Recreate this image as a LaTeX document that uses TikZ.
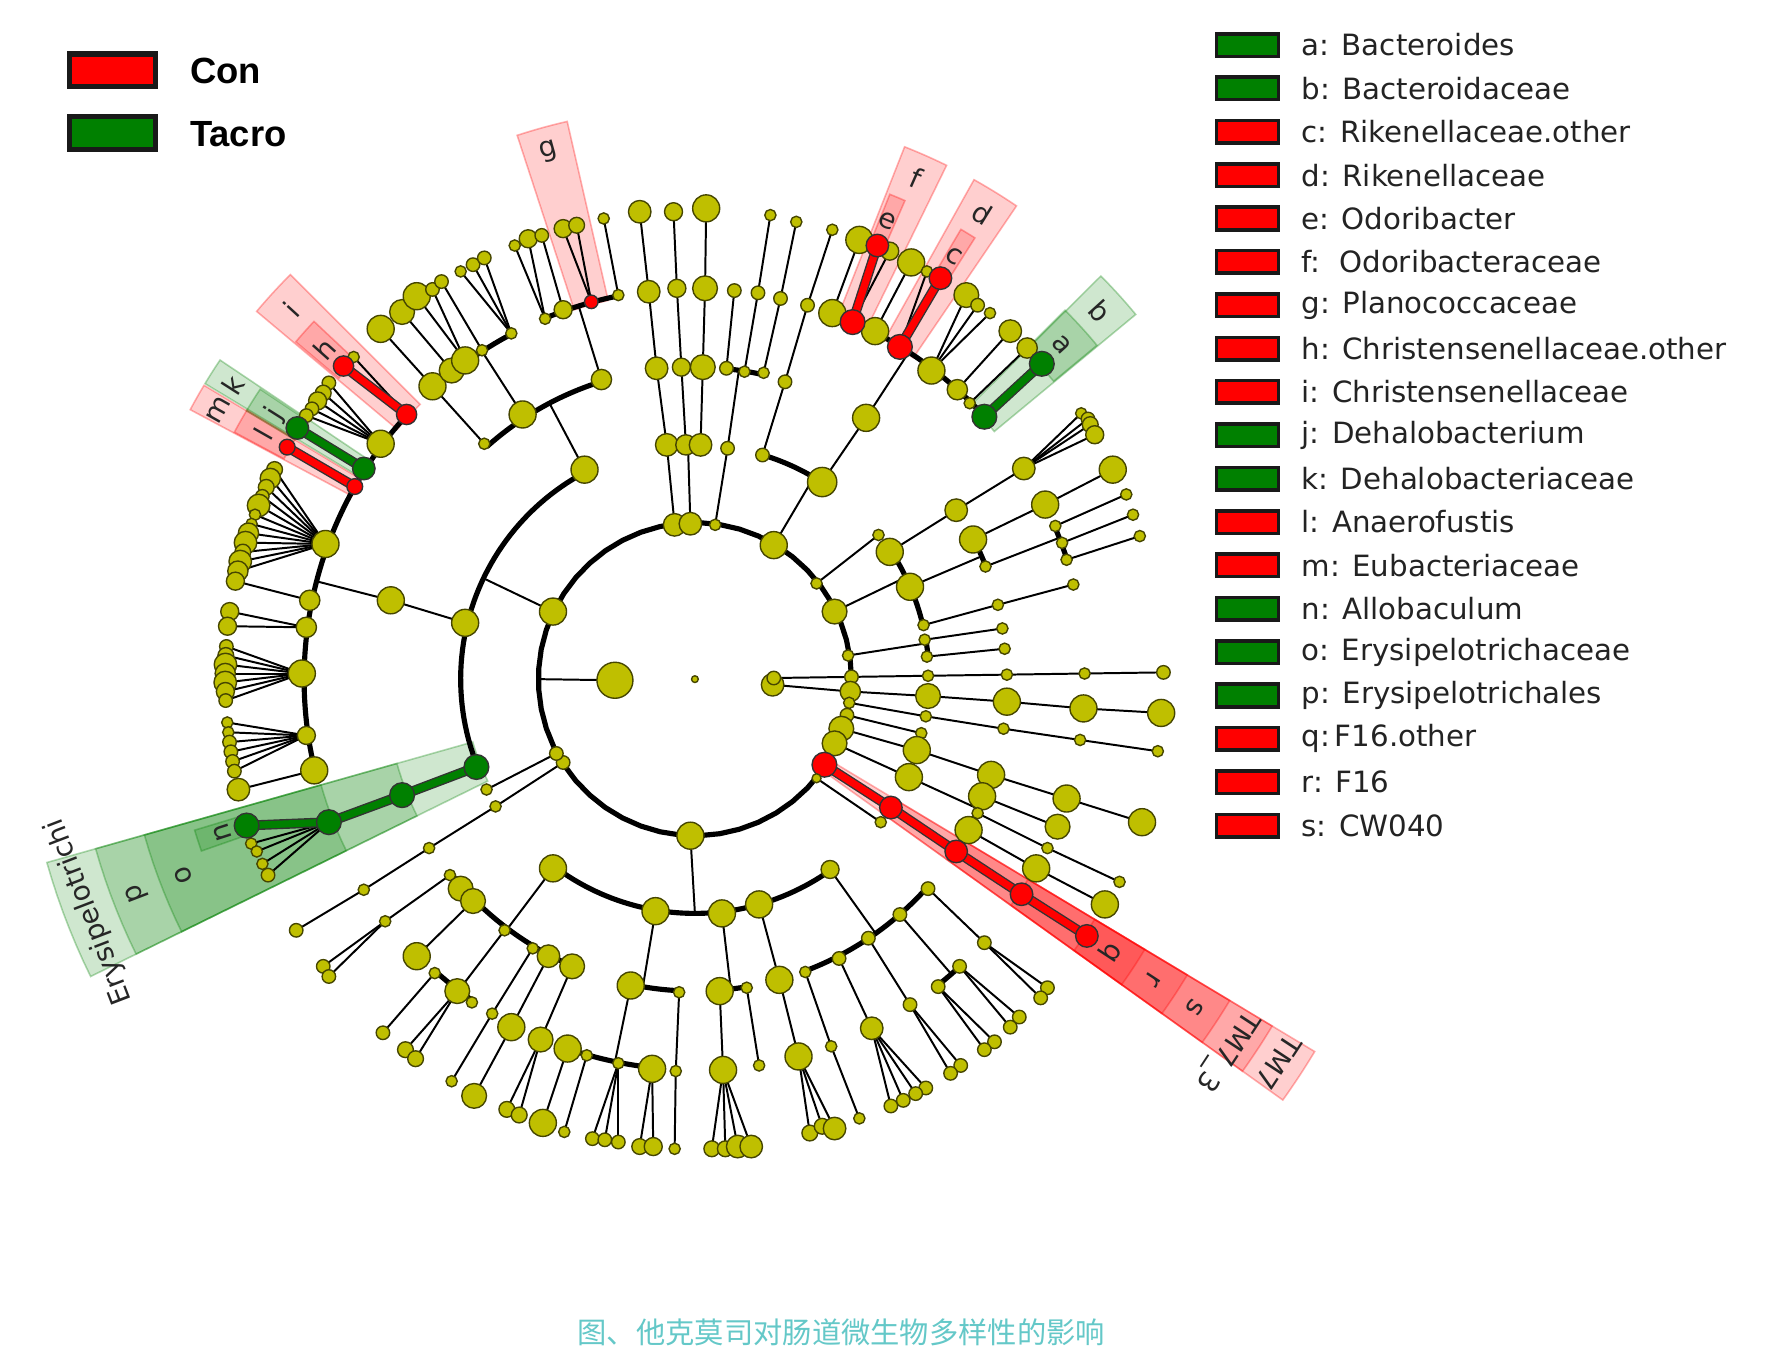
\documentclass[tikz,border=0pt]{standalone}
\usepackage{fontspec}
\setmainfont{DejaVu Sans}
\newfontfamily\lib{Liberation Sans}
\newfontfamily\cjk{Noto Sans CJK SC}
\definecolor{olv}{RGB}{191,191,0}
\definecolor{olvd}{RGB}{70,70,0}
\definecolor{grn}{RGB}{0,128,0}
\definecolor{capc}{RGB}{100,200,200}
\definecolor{txt}{RGB}{35,35,35}
\pgfdeclarelayer{bg}
\pgfdeclarelayer{edges}
\pgfsetlayers{bg,edges,main}
\tikzset{
  nd/.style={circle,inner sep=0pt,line width=0.35pt},
  ol/.style={fill=olv,draw=olvd},
  rd/.style={fill=red,draw=black!80},
  gr/.style={fill=grn,draw=black!80},
  th/.style={line width=0.5pt,black},
  tk/.style={line width=1.3pt,black},
  lab/.style={font=\fontsize{7}{8}\selectfont,text=black!85,inner sep=0pt},
  lgbox/.style={draw=black!90,line width=0.9pt,minimum width=0.55cm,minimum height=0.2cm,inner sep=0pt},
  lgtxt/.style={anchor=west,font=\fontsize{7.4}{9}\selectfont,text=txt,inner sep=0pt},
}
\newcommand\TN[5]{\node[nd,#5,minimum size=#4*0.2mm] (#1) at (#2,#3) {};}
\newcommand\TE[2]{\draw[th] (#1.center) -- (#2.center);}
\newcommand\TRC[2]{\draw[line width=2.5pt,black!80] (#1.center) -- (#2.center);\draw[line width=1.8pt,red] (#1.center) -- (#2.center);}
\newcommand\TGC[2]{\draw[line width=2.5pt,black!80] (#1.center) -- (#2.center);\draw[line width=1.8pt,grn] (#1.center) -- (#2.center);}
\newcommand\TA[3]{\draw[tk] plot[domain=#2:#3,samples=50] ({617+#1*cos(\x)},{603+#1*sin(\x)});}
\newcommand\TJ[3]{\coordinate (#1) at ({617+#2*cos(#3)},{603+#2*sin(#3)});}
\newcommand\THL[5]{\filldraw[fill=#1,draw=#1,fill opacity=0.19,draw opacity=0.3,line width=0.4pt] plot[domain=#2:#3,samples=8] ({617+#5*cos(\x)},{603+#5*sin(\x)}) -- plot[domain=#3:#2,samples=8] ({617+#4*cos(\x)},{603+#4*sin(\x)}) -- cycle;}
\newcommand\TLB[5]{\node[lab,rotate=#4] (#1) at ({617+#2*cos(#3)},{603+#2*sin(#3)}) {#5};}
\begin{document}
\begin{tikzpicture}[x=0.1mm,y=-0.1mm]
\useasboundingbox (0,0) rectangle (1568,1197);
\begin{pgfonlayer}{bg}
\fill[white] (0,0) rectangle (1568,1197);
% highlights red
\THL{red}{-108.1}{-102.9}{345}{508}
\THL{red}{-68.5}{-63.9}{345}{508}
\THL{red}{-68.1}{-66.3}{414}{464}
\THL{red}{-60.8}{-55.8}{345}{508}
\THL{red}{-59.4}{-57.6}{414}{464}
\THL{red}{-140}{-135}{345}{508}
\THL{red}{-139.8}{-136.8}{414}{464}
\THL{red}{-151.9}{-149.1}{345}{508}
\THL{red}{-151.8}{-149.0}{414}{464}
\THL{red}{31}{35.6}{136}{642}
\THL{red}{31}{35.6}{205}{598}
\THL{red}{31}{35.6}{275}{554}
\THL{red}{31}{35.6}{345}{510}
\THL{red}{31}{35.6}{414}{466}
% highlights green
\THL{grn}{-44.8}{-39.6}{345}{508}
\THL{grn}{-44.9}{-39.7}{414}{464}
\THL{grn}{-148.9}{-146.1}{345}{508}
\THL{grn}{-149.1}{-146.3}{414}{464}
\THL{grn}{153.8}{164.2}{205}{598}
\THL{grn}{153.8}{164.2}{275}{553}
\THL{grn}{153.8}{164.2}{345}{508}
\THL{grn}{160.8}{163.2}{414}{464}
\end{pgfonlayer}

% ---------- nodes ----------
\TN{c0}{617}{603}{3}{ol}
\TN{k1}{546}{604}{16}{ol}
\TN{k2}{686}{608}{10}{ol}
\TN{k3}{687}{602}{6}{ol}
% L2
\TN{p1}{599}{466}{10}{ol}
\TN{p2}{613}{465}{10}{ol}
\TN{p3}{635}{466}{5}{ol}
\TN{p4}{687}{484}{12}{ol}
\TN{p5}{725}{518}{5}{ol}
\TN{p6}{741}{543}{11}{ol}
\TN{p7}{753}{582}{5}{ol}
\TN{p8}{756}{601}{6}{ol}
\TN{p9}{755}{614}{9}{ol}
\TN{p10}{754}{624}{5}{ol}
\TN{p11}{752}{635}{6}{ol}
\TN{p12}{747}{647}{11}{ol}
\TN{p13}{741}{660}{11}{ol}
\TN{p14}{732}{679}{11}{rd}
\TN{p15}{725}{691}{4}{ol}
\TN{p16}{613}{742}{12}{ol}
\TN{p17}{500}{677}{6}{ol}
\TN{p18}{494}{669}{6}{ol}
\TN{p19}{491}{543}{12}{ol}
% top
\TN{t1}{592}{395}{10}{ol}
\TN{t2}{609}{395}{9}{ol}
\TN{t3}{622}{395}{10}{ol}
\TN{t4}{646}{398}{6}{ol}
\TN{t5}{677}{404}{6}{ol}
\TN{t6}{730}{428}{13}{ol}
\TN{t7}{583}{327}{10}{ol}
\TN{t8}{605}{326}{8}{ol}
\TN{t9}{624}{326}{11}{ol}
\TN{t10}{645}{327}{6}{ol}
\TN{t11}{661}{330}{5}{ol}
\TN{t12}{678}{331}{5}{ol}
\TN{t13}{697}{339}{6}{ol}
\TN{t14}{769}{371}{12}{ol}
\TN{t15}{576}{259}{10}{ol}
\TN{t16}{601}{256}{8}{ol}
\TN{t17}{626}{256}{11}{ol}
\TN{t18}{652}{258}{6}{ol}
\TN{t19}{673}{260}{6}{ol}
\TN{t20}{693}{265}{6}{ol}
\TN{t21}{717}{271}{6}{ol}
\TN{t22}{568}{188}{10}{ol}
\TN{t23}{598}{188}{8}{ol}
\TN{t24}{627}{185}{12}{ol}
\TN{t25}{684}{191}{5}{ol}
\TN{t26}{707}{197}{5}{ol}
\TN{t27}{739}{204}{5}{ol}
% Bacteroidales
\TN{b1}{739}{278}{12}{ol}
\TN{b3}{777}{294}{12}{ol}
\TN{b5}{827}{329}{12}{ol}
\TN{b6}{850}{346}{9}{ol}
\TN{b7}{861}{358}{5}{ol}
\TN{b9}{763}{213}{12}{ol}
\TN{b11}{790}{223}{8}{ol}
\TN{b12}{809}{233}{12}{ol}
\TN{b13}{823}{241}{5}{ol}
\TN{b15}{858}{262}{11}{ol}
\TN{b16}{868}{271}{6}{ol}
\TN{b17}{879}{278}{5}{ol}
\TN{b18}{897}{294}{10}{ol}
\TN{b19}{912}{309}{9}{ol}
\TN{b2}{757}{286}{11}{rd}
\TN{b4}{799}{308}{11}{rd}
\TN{b8}{874}{370}{11}{gr}
\TN{b10}{779}{218}{10}{rd}
\TN{b14}{835}{247}{10}{rd}
\TN{b20}{925}{323}{11}{gr}
% right
\TN{r1}{780}{475}{5}{ol}
\TN{r2}{790}{490}{12}{ol}
\TN{r3}{808}{521}{12}{ol}
\TN{r4}{820}{555}{5}{ol}
\TN{r5}{849}{453}{10}{ol}
\TN{r6}{864}{479}{12}{ol}
\TN{r7}{875}{503}{5}{ol}
\TN{r8}{886}{537}{5}{ol}
\TN{r9}{909}{416}{10}{ol}
\TN{r10}{928}{448}{12}{ol}
\TN{r11}{937}{467}{5}{ol}
\TN{r12}{943}{482}{5}{ol}
\TN{r13}{947}{497}{5}{ol}
\TN{r14}{953}{519}{5}{ol}
\TN{r15}{960}{367}{5}{ol}
\TN{r16}{966}{372}{6}{ol}
\TN{r17}{968}{377}{7}{ol}
\TN{r18}{972}{386}{8}{ol}
\TN{r19}{988}{417}{12}{ol}
\TN{r20}{1000}{439}{5}{ol}
\TN{r21}{1006}{457}{5}{ol}
\TN{r22}{1012}{476}{5}{ol}
\TN{m1}{821}{568}{5}{ol}
\TN{m2}{823}{583}{5}{ol}
\TN{m3}{890}{558}{5}{ol}
\TN{m4}{892}{576}{5}{ol}
\TN{m5}{824}{600}{5}{ol}
\TN{m6}{894}{599}{5}{ol}
\TN{m7}{963}{598}{5}{ol}
\TN{m8}{1033}{597}{6}{ol}
\TN{m9}{824}{618}{11}{ol}
\TN{m10}{894}{623}{12}{ol}
\TN{m11}{962}{629}{12}{ol}
\TN{m12}{1031}{633}{12}{ol}
\TN{m13}{822}{636}{5}{ol}
\TN{m14}{891}{647}{5}{ol}
\TN{m15}{959}{657}{5}{ol}
\TN{m16}{1028}{667}{5}{ol}
\TN{m17}{818}{651}{5}{ol}
\TN{m18}{814}{666}{12}{ol}
\TN{m19}{880}{688}{12}{ol}
\TN{m20}{947}{709}{12}{ol}
\TN{m21}{1014}{730}{12}{ol}
\TN{m22}{807}{690}{12}{ol}
\TN{m23}{872}{707}{12}{ol}
\TN{m24}{868}{722}{5}{ol}
\TN{m25}{860}{737}{12}{ol}
\TN{m26}{939}{734}{11}{ol}
\TN{m27}{930}{753}{5}{ol}
\TN{m28}{920}{771}{12}{ol}
\TN{m29}{994}{783}{5}{ol}
\TN{m30}{981}{803}{12}{ol}
\TN{m31}{782}{730}{5}{ol}
\TN{q1}{791}{717}{10}{rd}
\TN{q2}{849}{756}{10}{rd}
\TN{q3}{907}{794}{10}{rd}
\TN{q4}{965}{831}{10}{rd}
% bottom right
\TN{s1}{737}{772}{8}{ol}
\TN{s2}{824}{789}{6}{ol}
\TN{s3}{799}{812}{6}{ol}
\TN{s4}{771}{833}{6}{ol}
\TN{s5}{745}{851}{6}{ol}
\TN{s6}{715}{863}{5}{ol}
\TN{s7}{874}{837}{6}{ol}
\TN{s8}{852}{858}{6}{ol}
\TN{s9}{833}{876}{6}{ol}
\TN{s10}{808}{892}{6}{ol}
\TN{s11}{774}{913}{10}{ol}
\TN{s12}{738}{929}{5}{ol}
\TN{s13}{930}{877}{6}{ol}
\TN{s14}{924}{886}{6}{ol}
\TN{s15}{905}{903}{6}{ol}
\TN{s16}{897}{912}{6}{ol}
\TN{s17}{883}{925}{6}{ol}
\TN{s18}{874}{932}{6}{ol}
\TN{s19}{853}{946}{6}{ol}
\TN{s20}{844}{953}{6}{ol}
\TN{s21}{822}{966}{6}{ol}
\TN{s22}{813}{971}{6}{ol}
\TN{s23}{802}{977}{6}{ol}
\TN{s24}{791}{982}{6}{ol}
\TN{s25}{763}{993}{5}{ol}
% bottom
\TN{u1}{674}{803}{12}{ol}
\TN{u2}{641}{811}{12}{ol}
\TN{u3}{582}{809}{12}{ol}
\TN{u4}{491}{771}{12}{ol}
\TN{u5}{692}{870}{12}{ol}
\TN{u6}{709}{938}{12}{ol}
\TN{u7}{719}{1006}{7}{ol}
\TN{u8}{730}{1000}{7}{ol}
\TN{u9}{741}{1002}{10}{ol}
\TN{u10}{639}{880}{12}{ol}
\TN{u11}{663}{877}{5}{ol}
\TN{u12}{642}{950}{12}{ol}
\TN{u13}{674}{946}{5}{ol}
\TN{u14}{632}{1020}{7}{ol}
\TN{u15}{644}{1020}{7}{ol}
\TN{u16}{655}{1018}{10}{ol}
\TN{u17}{667}{1018}{10}{ol}
\TN{u18}{560}{875}{12}{ol}
\TN{u19}{603}{881}{5}{ol}
\TN{u20}{600}{951}{5}{ol}
\TN{u21}{599}{1020}{5}{ol}
\TN{u22}{504}{931}{12}{ol}
\TN{u23}{521}{937}{5}{ol}
\TN{u24}{549}{944}{5}{ol}
\TN{u25}{579}{949}{12}{ol}
\TN{u26}{482}{997}{12}{ol}
\TN{u27}{501}{1005}{5}{ol}
\TN{u28}{526}{1011}{6}{ol}
\TN{u29}{537}{1012}{6}{ol}
\TN{u30}{549}{1014}{6}{ol}
\TN{u31}{568}{1018}{7}{ol}
\TN{u32}{580}{1018}{8}{ol}
% bottom left
\TN{v1}{399.5}{777}{5}{ol}
\TN{v2}{409}{789}{11}{ol}
\TN{v3}{420}{800}{11}{ol}
\TN{v4}{448}{826}{5}{ol}
\TN{v5}{473}{842}{5}{ol}
\TN{v6}{487}{849}{10}{ol}
\TN{v7}{508}{858}{11}{ol}
\TN{v8}{342}{818}{5}{ol}
\TN{v9}{370}{849}{12}{ol}
\TN{v10}{386}{864}{5}{ol}
\TN{v11}{406}{880}{11}{ol}
\TN{v12}{419}{890}{5}{ol}
\TN{v13}{437}{900}{5}{ol}
\TN{v14}{454}{912}{12}{ol}
\TN{v15}{480}{923}{11}{ol}
\TN{v16}{287}{858}{6}{ol}
\TN{v17}{292}{867}{6}{ol}
\TN{v18}{340}{917}{6}{ol}
\TN{v19}{360}{932}{7}{ol}
\TN{v20}{369}{940}{7}{ol}
\TN{v21}{401}{960}{5}{ol}
\TN{v22}{421}{973}{11}{ol}
\TN{v23}{450}{985}{7}{ol}
\TN{v24}{461}{990}{7}{ol}
% left chains
\TN{w1}{432}{701}{5}{ol}
\TN{w2}{440}{716}{5}{ol}
\TN{w3}{381}{753}{5}{ol}
\TN{w4}{323}{790}{5}{ol}
\TN{w5}{263}{826}{6}{ol}
\TN{e5}{223}{749}{5}{ol}
\TN{e6}{228}{756}{5}{ol}
\TN{e7}{233}{767}{5}{ol}
\TN{e8}{238}{777}{6}{ol}
\TN{e1}{423}{681}{11}{gr}
\TN{e2}{357}{706}{11}{gr}
\TN{e3}{292}{730}{11}{gr}
\TN{e4}{219}{733}{11}{gr}
% Clostridia
\TN{c1}{413}{553}{12}{ol}
\TN{c2}{347}{533}{12}{ol}
\TN{c4}{338}{394}{12}{ol}
\TN{c7}{289}{483}{12}{ol}
\TN{c8}{275}{533}{9}{ol}
\TN{c9}{272}{557}{9}{ol}
\TN{c10}{268}{598}{12}{ol}
\TN{c11}{272}{653}{8}{ol}
\TN{c12}{279}{684}{12}{ol}
\TN{c14}{314}{317}{5}{ol}
\TN{c15}{292}{340}{6}{ol}
\TN{c16}{287}{349}{7}{ol}
\TN{c17}{282}{356}{8}{ol}
\TN{c18}{277}{363}{6}{ol}
\TN{c19}{272}{369}{6}{ol}
\TN{c3}{361}{368}{9}{rd}
\TN{c13}{305}{325}{9}{rd}
\TN{c5}{323}{416}{10}{gr}
\TN{c20}{264}{380}{10}{gr}
\TN{c6}{315}{432}{7}{rd}
\TN{c21}{255}{397}{7}{rd}
\TN{f1}{243.8}{416.9}{7}{ol}
\TN{f2}{240.0}{424.8}{9}{ol}
\TN{f3}{236.4}{432.7}{7}{ol}
\TN{f4}{232.9}{440.7}{6}{ol}
\TN{f5}{229.6}{448.8}{10}{ol}
\TN{f6}{226.4}{457.0}{5}{ol}
\TN{f7}{223.4}{465.2}{5}{ol}
\TN{f8}{220.6}{473.4}{9}{ol}
\TN{f9}{218.0}{481.8}{10}{ol}
\TN{f10}{215.6}{490.2}{7}{ol}
\TN{f11}{213.3}{498.6}{10}{ol}
\TN{f12}{211.2}{507.1}{9}{ol}
\TN{g1}{209}{516}{8}{ol}
\TN{g2}{204}{543}{8}{ol}
\TN{g3}{202}{556}{8}{ol}
\TN{h1}{201}{574}{6}{ol}
\TN{h2}{200.5}{582}{7}{ol}
\TN{h3}{200.2}{590}{10}{ol}
\TN{h4}{200}{598}{9}{ol}
\TN{h5}{200}{606}{10}{ol}
\TN{h6}{200.1}{614}{8}{ol}
\TN{h7}{200.4}{622}{6}{ol}
\TN{i1}{201.8}{641.5}{5}{ol}
\TN{i2}{202.7}{650.2}{5}{ol}
\TN{i3}{203.8}{658.9}{6}{ol}
\TN{i4}{205}{667.5}{6}{ol}
\TN{i5}{206.5}{676.1}{6}{ol}
\TN{i6}{208.1}{684.7}{6}{ol}
\TN{i7}{211.7}{701.1}{10}{ol}
% Bacilli
\TN{a1}{519}{417}{12}{ol}
\TN{a2}{430}{394}{5}{ol}
\TN{a3}{464}{368}{12}{ol}
\TN{a4}{534}{337}{9}{ol}
\TN{a5}{384}{343}{12}{ol}
\TN{a6}{401}{329}{11}{ol}
\TN{a7}{413}{320}{12}{ol}
\TN{a8}{428}{311}{5}{ol}
\TN{a9}{454}{296}{5}{ol}
\TN{a10}{484}{283}{5}{ol}
\TN{a11}{500}{275}{8}{ol}
\TN{a13}{549}{262}{5}{ol}
\TN{a12}{525}{268}{6}{rd}
\TN{a14}{338}{292}{12}{ol}
\TN{a15}{357}{277}{11}{ol}
\TN{a16}{370}{263}{12}{ol}
\TN{a17}{384}{257}{6}{ol}
\TN{a18}{392}{250}{6}{ol}
\TN{a19}{409}{241}{5}{ol}
\TN{a20}{420}{235}{6}{ol}
\TN{a21}{430}{229}{6}{ol}
\TN{a22}{457}{218}{5}{ol}
\TN{a23}{469}{212}{8}{ol}
\TN{a24}{481}{209}{6}{ol}
\TN{a25}{500}{203}{8}{ol}
\TN{a26}{512}{200}{7}{ol}
\TN{a27}{536}{194}{5}{ol}

% ---------- connectors ----------
\begin{pgfonlayer}{edges}
\TA{139}{0}{360}
\TA{208}{-117.8}{-201.9}
\TA{277}{-131.8}{-107.3}
\TA{347}{-128.2}{-118}
\TA{347}{-112.6}{-101.3}
\TA{347}{-137.4}{-193.5}
\TA{208}{-92.2}{-88.6}
\TA{277}{-84.2}{-77.4}
\TA{208}{-73.2}{-57.1}
\TA{347}{-69.4}{-42.2}
\TA{208}{-33.2}{-13.3}
\TA{277}{-26.7}{-21.2}
\TA{347}{-23}{-17.8}
\TA{208}{-9.7}{-5.5}
\TA{277}{22.2}{28.9}
\TA{208}{54.6}{126.9}
\TA{277}{41.9}{69.3}
\TA{347}{47.3}{51.6}
\TA{277}{80.5}{85.4}
\TA{277}{92.8}{101.8}
\TA{347}{96.3}{109}
\TA{277}{113}{141.3}
\TA{347}{124.4}{131.5}
\TJ{jk1}{139}{180}
\TJ{jF}{208}{-154.5}
\TJ{jc2}{347}{-165.5}
\TJ{jB}{277}{-117.8}
\TJ{ja3}{347}{-123}
\TJ{ja4}{347}{-107.3}
\TJ{jp2}{208}{-91.7}
\TJ{jt4}{277}{-81.9}
\TJ{jp4}{208}{-59.5}
\TJ{jt14}{347}{-56.8}
\TJ{jp6}{208}{-25.8}
\TJ{jr3}{277}{-23.2}
\TJ{jr7}{347}{-21.2}
\TJ{jp7}{208}{-8.8}
\TJ{jm22}{277}{24.6}
\TJ{jp16}{208}{90}
\TJ{js1}{277}{54.6}
\TJ{js3}{347}{49}
\TJ{ju2}{277}{83.4}
\TJ{ju3}{277}{99.6}
\TJ{ju18}{347}{101.8}
\TJ{ju4}{277}{126.9}
\TJ{jv4}{347}{127.2}
% centre
\TE{k1}{jk1}\TE{k2}{p9}\TE{k3}{p8}
% Firmicutes
\TE{p19}{jF}\TE{c1}{c2}\TE{c2}{jc2}
\TE{a1}{jB}\TE{a2}{a5}\TE{a3}{ja3}\TE{a4}{ja4}
\TE{a5}{a14}\TE{a6}{a15}\TE{a7}{a16}\TE{a7}{a17}\TE{a8}{a18}
\TE{a9}{a19}\TE{a9}{a20}\TE{a9}{a21}
\TE{a10}{a22}\TE{a10}{a23}\TE{a11}{a24}\TE{a12}{a25}\TE{a12}{a26}\TE{a13}{a27}
\TE{c3}{c14}\TE{c4}{c15}\TE{c4}{c16}\TE{c4}{c17}\TE{c4}{c18}\TE{c4}{c19}
\TE{c7}{f1}\TE{c7}{f2}\TE{c7}{f3}\TE{c7}{f4}\TE{c7}{f5}\TE{c7}{f6}
\TE{c7}{f7}\TE{c7}{f8}\TE{c7}{f9}\TE{c7}{f10}\TE{c7}{f11}\TE{c7}{f12}
\TE{c8}{g1}\TE{c9}{g2}\TE{c9}{g3}
\TE{c10}{h1}\TE{c10}{h2}\TE{c10}{h3}\TE{c10}{h4}\TE{c10}{h5}\TE{c10}{h6}\TE{c10}{h7}
\TE{c11}{i1}\TE{c11}{i2}\TE{c11}{i3}\TE{c11}{i4}\TE{c11}{i5}\TE{c11}{i6}\TE{c12}{i7}
\TE{e3}{e5}\TE{e3}{e6}\TE{e3}{e7}\TE{e3}{e8}
\TRC{c3}{c13}\TGC{c5}{c20}\TRC{c6}{c21}
\TGC{e1}{e2}\TGC{e2}{e3}\TGC{e3}{e4}
% left chains
\TE{p17}{w2}\TE{w2}{w3}\TE{w3}{w4}\TE{w4}{w5}\TE{p18}{w1}
% top
\TE{p1}{t1}\TE{t1}{t7}\TE{t7}{t15}\TE{t15}{t22}
\TE{p2}{jp2}\TE{t2}{t8}\TE{t8}{t16}\TE{t16}{t23}\TE{t3}{t9}\TE{t9}{t17}\TE{t17}{t24}
\TE{p3}{t4}\TE{t4}{jt4}\TE{t10}{t18}\TE{t11}{t19}\TE{t19}{t25}\TE{t12}{t20}\TE{t20}{t26}
\TE{p4}{jp4}\TE{t5}{t13}\TE{t13}{t21}\TE{t21}{t27}\TE{t6}{t14}\TE{t14}{jt14}
\TE{b1}{b9}\TE{b2}{b11}\TE{b3}{b12}\TE{b4}{b13}\TE{b5}{b15}\TE{b5}{b16}\TE{b5}{b17}
\TE{b6}{b18}\TE{b7}{b19}
\TRC{b2}{b10}\TRC{b4}{b14}\TGC{b8}{b20}
% right
\TE{p5}{r1}\TE{p6}{jp6}\TE{r2}{r5}\TE{r5}{r9}
\TE{r9}{r15}\TE{r9}{r16}\TE{r9}{r17}\TE{r9}{r18}
\TE{r3}{jr3}\TE{r6}{r10}\TE{r10}{r19}\TE{r7}{jr7}
\TE{r11}{r20}\TE{r12}{r21}\TE{r13}{r22}\TE{r4}{r8}\TE{r8}{r14}
\TE{p7}{jp7}\TE{m1}{m3}\TE{m2}{m4}
\TE{p8}{m5}\TE{m5}{m6}\TE{m6}{m7}\TE{m7}{m8}
\TE{p9}{m9}\TE{m9}{m10}\TE{m10}{m11}\TE{m11}{m12}
\TE{p10}{m13}\TE{m13}{m14}\TE{m14}{m15}\TE{m15}{m16}
\TE{p11}{m17}
\TE{p12}{m18}\TE{m18}{m19}\TE{m19}{m20}\TE{m20}{m21}
\TE{p13}{m22}\TE{m22}{jm22}\TE{m23}{m26}\TE{m24}{m27}\TE{m27}{m29}\TE{m25}{m28}\TE{m28}{m30}
\TE{p15}{m31}
\TRC{p14}{q1}\TRC{q1}{q2}\TRC{q2}{q3}\TRC{q3}{q4}
% bottom
\TE{p16}{jp16}
\TE{s1}{js1}\TE{s2}{s7}\TE{s7}{s13}\TE{s7}{s14}\TE{s3}{js3}
\TE{s8}{s15}\TE{s8}{s16}\TE{s9}{s17}\TE{s9}{s18}
\TE{s4}{s10}\TE{s10}{s19}\TE{s10}{s20}
\TE{s5}{s11}\TE{s11}{s21}\TE{s11}{s22}\TE{s11}{s23}\TE{s11}{s24}
\TE{s6}{s12}\TE{s12}{s25}
\TE{u1}{u5}\TE{u5}{u6}\TE{u6}{u7}\TE{u6}{u8}\TE{u6}{u9}
\TE{u2}{ju2}\TE{u10}{u12}\TE{u12}{u14}\TE{u12}{u15}\TE{u12}{u16}\TE{u12}{u17}\TE{u11}{u13}
\TE{u3}{ju3}\TE{u18}{ju18}\TE{u19}{u20}\TE{u20}{u21}
\TE{u22}{u26}\TE{u23}{u27}\TE{u24}{u28}\TE{u24}{u29}\TE{u24}{u30}\TE{u25}{u31}\TE{u25}{u32}
\TE{u4}{ju4}\TE{v1}{v8}\TE{v8}{v16}\TE{v8}{v17}\TE{v3}{v9}\TE{v4}{jv4}
\TE{v10}{v18}\TE{v11}{v19}\TE{v11}{v20}\TE{v5}{v13}\TE{v13}{v21}
\TE{v6}{v14}\TE{v14}{v22}\TE{v7}{v15}\TE{v15}{v23}\TE{v15}{v24}
\end{pgfonlayer}

% ---------- clade labels ----------
\TLB{Lg}{486}{-105.5}{15.5}{g}
\TLB{Lf}{486}{-66.2}{-23.8}{f}
\TLB{Le}{441}{-67.2}{-22.8}{e}
\TLB{Ld}{486}{-58.3}{-31.7}{d}
\TLB{Lc}{441}{-58.5}{-31.5}{c}
\TLB{Lb}{486}{-42.2}{-47.8}{b}
\TLB{La}{441}{-42.3}{-47.7}{a}
\TLB{Li}{486}{-137.5}{47.5}{i}
\TLB{Lh}{441}{-138.3}{48.3}{h}
\TLB{Lk}{486}{-147.5}{57.5}{k}
\TLB{Lj}{441}{-147.7}{57.7}{j}
\TLB{Lm}{486}{-150.5}{60.5}{m}
\TLB{Ll}{441}{-150.4}{60.4}{l}
\TLB{Ln}{441}{162}{108}{n}
\TLB{Lo}{486}{159}{111}{o}
\TLB{Lp}{531}{159}{111}{p}
\TLB{LE}{576}{159}{111}{Erysipelotrichi}
\TLB{Lq}{441}{33.3}{-123.3}{q}
\TLB{Lr}{486}{33.3}{-123.3}{r}
\TLB{Ls}{531}{33.3}{-123.3}{s}
\node[lab,rotate=-123.3,anchor=west] (LT3) at (1111.6,899.1) {TM7\_3};
\TLB{LT}{620}{33.3}{-123.3}{TM7}

% ---------- left legend ----------
\node[draw=black!90,line width=1.3pt,fill=red,minimum width=0.76cm,minimum height=0.29cm,inner sep=0pt] (lcon) at (100,62.5) {};
\node[draw=black!90,line width=1.3pt,fill=grn,minimum width=0.76cm,minimum height=0.29cm,inner sep=0pt] (ltac) at (100,118) {};
\node[anchor=west,inner sep=0pt,font=\lib\bfseries\fontsize{9.2}{11}\selectfont] (tcon) at (168,63) {Con};
\node[anchor=west,inner sep=0pt,font=\lib\bfseries\fontsize{9.2}{11}\selectfont] (ttac) at (168,119) {Tacro};

% ---------- right legend ----------
\node[lgbox,fill=grn] (ka) at (1107.5,40) {};   \node[lgtxt] (ta) at (1155,40) {a: Bacteroides};
\node[lgbox,fill=grn] (kb) at (1107.5,78.5) {}; \node[lgtxt] (tb) at (1155,78.5) {b: Bacteroidaceae};
\node[lgbox,fill=red] (kc) at (1107.5,117) {};  \node[lgtxt] (tc) at (1155,117) {c: Rikenellaceae.other};
\node[lgbox,fill=red] (kd) at (1107.5,155.5) {};\node[lgtxt] (td) at (1155,155.5) {d: Rikenellaceae};
\node[lgbox,fill=red] (ke) at (1107.5,194) {};  \node[lgtxt] (te) at (1155,194) {e: Odoribacter};
\node[lgbox,fill=red] (kf) at (1107.5,232.5) {};\node[lgtxt] (tf) at (1155,232.5) {f:\ \ Odoribacteraceae};
\node[lgbox,fill=red] (kg) at (1107.5,271) {};  \node[lgtxt] (tg) at (1155,271) {g: Planococcaceae};
\node[lgbox,fill=red] (kh) at (1107.5,309.5) {};\node[lgtxt] (th) at (1155,309.5) {h: Christensenellaceae.other};
\node[lgbox,fill=red] (ki) at (1107.5,348) {};  \node[lgtxt] (ti) at (1155,348) {i: Christensenellaceae};
\node[lgbox,fill=grn] (kj) at (1107.5,386.5) {};\node[lgtxt] (tj) at (1155,386.5) {j: Dehalobacterium};
\node[lgbox,fill=grn] (kk) at (1107.5,425) {};  \node[lgtxt] (tk) at (1155,425) {k: Dehalobacteriaceae};
\node[lgbox,fill=red] (kl) at (1107.5,463.5) {};\node[lgtxt] (tl) at (1155,463.5) {l: Anaerofustis};
\node[lgbox,fill=red] (km) at (1107.5,502) {};  \node[lgtxt] (tm) at (1155,502) {m: Eubacteriaceae};
\node[lgbox,fill=grn] (kn) at (1107.5,540.5) {};\node[lgtxt] (tn) at (1155,540.5) {n: Allobaculum};
\node[lgbox,fill=grn] (ko) at (1107.5,579) {};  \node[lgtxt] (to) at (1155,579) {o: Erysipelotrichaceae};
\node[lgbox,fill=grn] (kp) at (1107.5,617.5) {};\node[lgtxt] (tp) at (1155,617.5) {p: Erysipelotrichales};
\node[lgbox,fill=red] (kq) at (1107.5,656) {};  \node[lgtxt] (tq) at (1155,656) {q:\,F16.other};
\node[lgbox,fill=red] (kr) at (1107.5,694.5) {};\node[lgtxt] (tr) at (1155,694.5) {r: F16};
\node[lgbox,fill=red] (ks) at (1107.5,733) {};  \node[lgtxt] (ts) at (1155,733) {s: CW040};

% ---------- caption ----------
\node[text=capc,inner sep=0pt,font=\cjk\fontsize{7.4}{9}\selectfont] (cap) at (747,1183) {图、他克莫司对肠道微生物多样性的影响};
\end{tikzpicture}
\end{document}
